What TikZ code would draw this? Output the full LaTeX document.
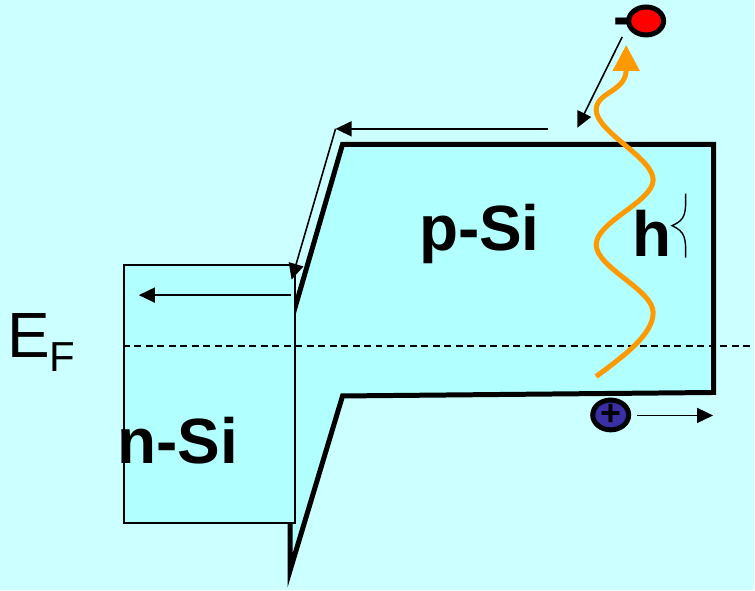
\documentclass[tikz,border=0pt]{standalone}
\usepackage{fontspec}
\setmainfont{Liberation Sans}
\usepackage{tikz}
\usetikzlibrary{arrows.meta, shapes.geometric}
\definecolor{bgcyan}{HTML}{CCFFFF}
\definecolor{bandcyan}{HTML}{B2FFFF}
\definecolor{waveorange}{HTML}{FF9900}
\definecolor{holeblue}{HTML}{3A2FA5}
\tikzset{
    motion/.style={line width=1.6pt, -{Triangle[length=16pt, width=15pt]}},
    carrier/.style={ellipse, draw=black, line width=5pt, inner sep=0pt},
    label/.style={font=\fontsize{64}{64}\selectfont\bfseries, inner sep=0pt}
}

\begin{document}
\begin{tikzpicture}[x=1pt, y=-1pt]
    % Background
    \fill[bgcyan] (0, 0) rectangle (755, 591);

    % Band edges of p-Si
    \draw[fill=bandcyan, line width=5pt] (343, 144.5) -- (714.5, 144.5) -- (714.5, 393) -- (343, 396.5) -- (290.5, 571) -- (290.5, 325) -- cycle;

    % n-Si box
    \node[draw=black, fill=bandcyan, line width=2pt, minimum width=171pt, minimum height=258pt, inner sep=0pt] (nbox) at (209.5, 394.5) {};

    % Fermi level
    \coordinate (fermiend) at (755, 346.5);
    \draw[line width=2pt, dash pattern=on 7pt off 4.5pt] (nbox.west |- fermiend) -- (fermiend);
    \node[font=\fontsize{64}{64}\selectfont, inner sep=0pt] (ef) at (29, 336) {E};
    \node[font=\fontsize{42}{42}\selectfont, inner sep=0pt] (efsub) at (62, 358) {F};

    % Labels
    \node[label] (psi) at (480, 234) {p-Si};
    \node[label] (nsi) at (178, 441) {n-Si};
    \node[label] (hlabel) at (653, 234) {h};

    % Brace next to h
    \draw[line width=1.4pt] (686.5, 194) .. controls (687, 215) and (686, 220) .. (673, 226) .. controls (686, 232) and (687, 238) .. (686.5, 258);

    % Electron
    \node[carrier, fill=red, minimum width=35pt, minimum height=28pt] (electron) at (647, 21) {};
    \node[font=\fontsize{58}{58}\selectfont\bfseries, inner sep=0pt] (minus) at (624, 27.5) {-};

    % Hole
    \node[carrier, fill=holeblue, minimum width=36pt, minimum height=29pt, font=\fontsize{36}{36}\selectfont\bfseries] (hole) at (611.5, 415.5) {+};

    % Photon
    \draw[waveorange, line width=5pt, -{Triangle[length=26pt, width=26pt]}] (597, 377) .. controls (625, 356) and (654, 335) .. (654, 313) .. controls (654, 290) and (597, 268) .. (597, 245) .. controls (597, 222) and (654, 202) .. (654, 180) .. controls (654, 158) and (597, 132) .. (597, 110) .. controls (597, 92) and (627, 92) .. (627, 45);

    % Carrier paths
    \coordinate (a1) at (549, 129);
    \coordinate (a2) at (336, 129);
    \coordinate (a3) at (292, 280);
    \coordinate (a4) at (291, 295.5);
    \coordinate (a5) at (139, 295.5);
    \coordinate (e1) at (623, 37);
    \coordinate (e2) at (578, 128);
    \coordinate (h1) at (638, 416);
    \coordinate (h2) at (714, 416);
    \draw[motion] (a1) -- (a2);
    \draw[motion] (a2) -- (a3);
    \draw[motion] (a4) -- (a5);
    \draw[motion] (e1) -- (e2);
    \draw[motion] (h1) -- (h2);

    \useasboundingbox (0, 0) rectangle (755, 591);
\end{tikzpicture}
\end{document}
